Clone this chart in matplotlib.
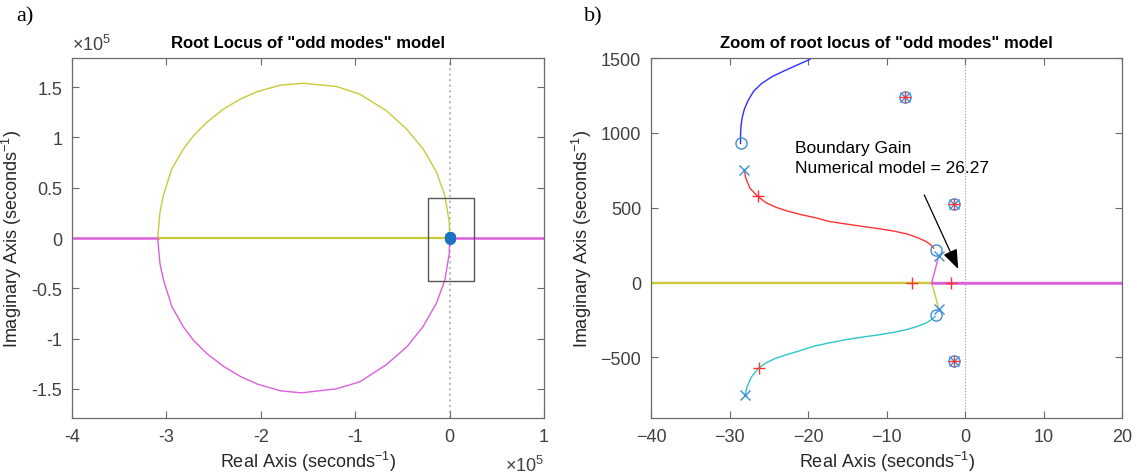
import matplotlib.pyplot as plt
from matplotlib.patches import Rectangle

# ---- data (left panel in units of 1e5 s^-1) ----
upper_arc_x = [-3.092, -3.068, -3.033, -2.944, -2.82, -2.715, -2.573, -2.397, -2.22, -2.044,
               -1.797, -1.55, -1.196, -0.949, -0.666, -0.454, -0.278, -0.137, -0.049, -0.003, 0.0]
upper_arc_y = [0.0, 0.255, 0.42, 0.685, 0.884, 1.016, 1.149, 1.281, 1.38, 1.453,
               1.519, 1.539, 1.506, 1.43, 1.264, 1.082, 0.884, 0.652, 0.42, 0.156, 0.0]
lower_arc_x = [-3.092, -3.068, -3.03, -2.94, -2.82, -2.71, -2.57, -2.39, -2.21, -2.03,
               -1.79, -1.57, -1.20, -0.95, -0.67, -0.45, -0.28, -0.14, -0.05, -0.003, 0.0]
lower_arc_y = [0.0, -0.255, -0.42, -0.685, -0.884, -1.02, -1.15, -1.28, -1.38, -1.455,
               -1.52, -1.54, -1.50, -1.43, -1.26, -1.08, -0.88, -0.65, -0.42, -0.156, 0.0]
real_yellow_x = [-3.092, 0.0]
real_magenta_left_x = [-4.5, -3.092]
real_magenta_right_x = [0.0, 1.5]
zoom_box = (-0.23, -0.43, 0.49, 0.83)  # x0, y0, w, h

# ---- data (right panel, s^-1) ----
blue_x = [-28.6, -28.6, -28.55, -28.4, -28.1, -27.6, -26.9, -25.9, -24.6, -23.0,
          -21.3, -19.8, -18.8]
blue_y = [929, 980, 1040, 1100, 1160, 1220, 1280, 1330, 1375, 1415,
          1455, 1490, 1530]
red_x = [-28.1, -27.95, -27.4, -26.4, -25.4, -24.2, -22.8, -21.0, -19.0, -17.4,
         -15.3, -13.2, -11.0, -9.0, -7.3, -6.0, -5.0, -4.4, -4.0]
red_y = [752, 700, 630, 575, 535, 505, 480, 455, 432, 409,
         392, 376, 360, 343, 323, 299, 275, 254, 230]
cyan_x = [-28.0, -27.8, -27.2, -26.3, -25.3, -24.2, -22.8, -21.0, -19.3, -17.2,
          -15.1, -13.0, -10.8, -9.0, -7.4, -6.0, -4.9, -4.2, -3.8]
cyan_y = [-751, -700, -630, -572, -535, -508, -483, -455, -426, -402,
          -381, -364, -348, -332, -314, -292, -269, -245, -225]
yellow_x = [-3.35, -3.75, -4.25, -45.0]
yellow_y = [-180, -95, 0, 0]
magenta_x = [-3.35, -3.75, -4.25, 25.0]
magenta_y = [180, 95, 0, 0]

pole_x = [-28.1, -3.35, -3.35, -28.0, -7.7, -1.45, -1.45]
pole_y = [752, 180, -180, -751, 1240, 524, -522]
zero_x = [-28.6, -3.7, -3.7, -7.7, -1.45, -1.45]
zero_y = [929, 220, -217, 1240, 524, -522]
gain_x = [-26.4, -26.3, -6.75, -1.83, -7.7, -1.45, -1.45]
gain_y = [575, -572, 0, 0, 1240, 524, -522]

gain_text = 'Boundary Gain\nNumerical model = 26.27'

# colours
c_y = '#C9C93A'
c_m = '#DB5FDB'
c_b = '#2F2FFF'
c_r = '#FF3333'
c_c = '#2CC6C6'
c_mk = '#3E8FD4'
c_ax = '#6A6A6A'
c_tx = '#404040'

plt.rcParams['font.family'] = ['Liberation Sans', 'DejaVu Sans']
plt.rcParams['mathtext.fontset'] = 'custom'
plt.rcParams['mathtext.rm'] = 'Liberation Sans'
plt.rcParams['mathtext.it'] = 'Liberation Sans'

fig = plt.figure(figsize=(11.37, 4.77), dpi=100)
ax1 = fig.add_axes([0.0633, 0.1216, 0.4151, 0.7547])
ax2 = fig.add_axes([0.5726, 0.1216, 0.4142, 0.7547])


def style(ax):
    for s in ax.spines.values():
        s.set_color(c_ax)
        s.set_linewidth(0.9)
    ax.tick_params(direction='in', top=True, right=True, length=5, width=0.8,
                   color=c_ax, labelcolor=c_tx, labelsize=13, pad=7)


# left panel
ax1.axvline(0, color='#BBBBBB', lw=1.5, ls=':', zorder=1)
ax1.plot(real_magenta_left_x, [0, 0], color=c_m, lw=1.8, zorder=2)
ax1.plot(real_magenta_right_x, [0, 0], color=c_m, lw=1.8, zorder=2)
ax1.plot(real_yellow_x, [0, 0], color=c_y, lw=1.6, zorder=2)
ax1.plot(upper_arc_x, upper_arc_y, color=c_y, lw=1.0, zorder=2)
ax1.plot(lower_arc_x, lower_arc_y, color=c_m, lw=1.0, zorder=2)
ax1.add_patch(Rectangle(zoom_box[:2], zoom_box[2], zoom_box[3], fill=False,
                        ec='#555555', lw=1.0, zorder=3))
ax1.plot([v / 1e5 for v in zero_x], [v / 1e5 for v in zero_y], 'o', ms=7,
         color='#1A72C0', mfc='#1A72C0', zorder=4)
ax1.set_xlim(-4, 1)
ax1.set_ylim(-1.79, 1.79)
ax1.set_xticks([-4, -3, -2, -1, 0, 1])
ax1.set_xticklabels(['-4', '-3', '-2', '-1', '0', '1'])
ax1.set_yticks([-1.5, -1, -0.5, 0, 0.5, 1, 1.5])
ax1.set_yticklabels(['-1.5', '-1', '-0.5', '0', '0.5', '1', '1.5'])
style(ax1)
ax1.set_title('Root Locus of "odd modes" model', fontsize=12, fontweight='bold', pad=8)
ax1.set_xlabel('Real Axis (seconds$^{\\mathrm{-1}}$)', fontsize=13, color='#262626', labelpad=3)
ax1.set_ylabel('Imaginary Axis (seconds$^{\\mathrm{-1}}$)', fontsize=13, color='#262626', labelpad=5)
ax1.text(0.0, 1.01, r'$\times$10$^5$', transform=ax1.transAxes, fontsize=13,
         color=c_tx, ha='left', va='bottom')
ax1.text(1.0, -0.13, r'$\times$10$^5$', transform=ax1.transAxes, fontsize=13,
         color=c_tx, ha='right', va='center')

# right panel
ax2.axvline(0, color='#999999', lw=0.8, ls=':', zorder=1)
ax2.plot(yellow_x, yellow_y, color=c_y, lw=1.0, zorder=2)
ax2.plot(yellow_x[2:], yellow_y[2:], color=c_y, lw=1.6, zorder=2)
ax2.plot(magenta_x, magenta_y, color=c_m, lw=1.0, zorder=2)
ax2.plot(magenta_x[2:], magenta_y[2:], color=c_m, lw=1.8, zorder=2)
ax2.plot(blue_x, blue_y, color=c_b, lw=1.0, zorder=2)
ax2.plot(red_x, red_y, color=c_r, lw=1.0, zorder=2)
ax2.plot(cyan_x, cyan_y, color=c_c, lw=1.0, zorder=2)
ax2.plot(zero_x, zero_y, 'o', ms=8, mfc='none', mec=c_mk, mew=1.0, zorder=4)
ax2.plot(pole_x, pole_y, 'x', ms=6.5, color=c_mk, mew=1.0, zorder=4)
ax2.plot(gain_x, gain_y, '+', ms=8, color=c_r, mew=1.0, zorder=5)
ax2.annotate('', xy=(-0.72, 73), xytext=(-5.34, 602),
             arrowprops=dict(arrowstyle='-|>,head_length=1.2,head_width=0.45',
                             color='black', lw=0.9), zorder=6)
ax2.text(-21.6, 835, gain_text, fontsize=12.5, ha='left', va='center',
         linespacing=1.45, zorder=6)
ax2.set_xlim(-40, 20)
ax2.set_ylim(-905, 1500)
ax2.set_xticks([-40, -30, -20, -10, 0, 10, 20])
ax2.set_yticks([-500, 0, 500, 1000, 1500])
style(ax2)
ax2.set_title('Zoom of root locus of "odd modes" model', fontsize=12, fontweight='bold', pad=8)
ax2.set_xlabel('Real Axis (seconds$^{\\mathrm{-1}}$)', fontsize=13, color='#262626', labelpad=3)
ax2.set_ylabel('Imaginary Axis (seconds$^{\\mathrm{-1}}$)', fontsize=13, color='#262626', labelpad=5)

fig.text(0.014, 0.965, 'a)', family='Liberation Serif', fontsize=16, va='center')
fig.text(0.514, 0.965, 'b)', family='Liberation Serif', fontsize=16, va='center')

fig.savefig('out.png', dpi=100)
